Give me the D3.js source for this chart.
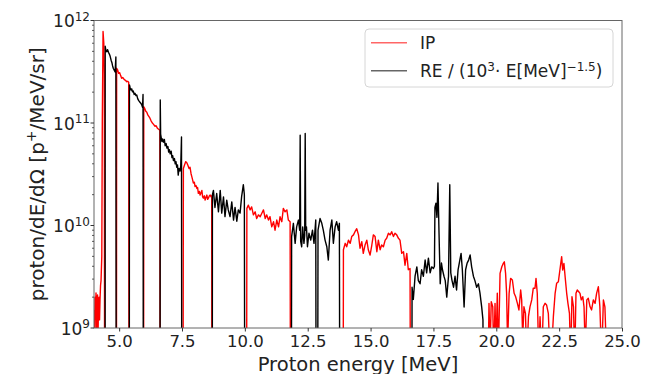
<!DOCTYPE html>
<html><head><meta charset="utf-8">
<script src="https://cdn.jsdelivr.net/npm/d3@7"></script>
<style>body{margin:0;background:#fff}svg{display:block;font-family:"DejaVu Sans",sans-serif}</style>
</head><body><svg id="c" width="655" height="374"></svg>
<script>
// ---------- data (energy [MeV], value) ; 0 = no signal (below axis) ----------
const xTicks = [5.0, 7.5, 10.0, 12.5, 15.0, 17.5, 20.0, 22.5, 25.0];
const yTickExp = [9, 10, 11, 12];
const seriesNames = ["IP", "RE"];

const ipPoints = [
 [4.00,1.5e9],[4.02,6e8],[4.04,2.0e9],[4.06,1.3e9],[4.08,2.2e9],[4.10,5e8],[4.12,1.9e9],[4.14,2.1e9],[4.16,8e8],[4.18,1.8e9],[4.20,2.0e9],[4.22,1.2e9],[4.24,1.9e9],[4.26,2.6e9],[4.28,2.9e9],[4.31,5e9],[4.33,1e11],[4.36,7.8e11],[4.39,6e11],[4.41,3e11],[4.43,0],
 [4.89,0],[4.90,3.42e11],[4.94,3.3e11],[4.98,3.05e11],[5.02,3.1e11],[5.06,2.9e11],[5.10,2.73e11],[5.14,2.78e11],[5.18,2.7e11],[5.22,2.63e11],[5.26,2.6e11],[5.30,2.53e11],[5.34,2.55e11],[5.38,2.5e11],[5.40,0],
 [5.97,0],[5.98,1.44e11],[6.02,1.38e11],[6.06,1.3e11],[6.10,1.27e11],[6.14,1.2e11],[6.18,1.16e11],[6.22,1.12e11],[6.27,1.05e11],[6.32,1.0e11],[6.37,9.7e10],[6.42,9.3e10],[6.47,9.4e10],[6.52,8.9e10],[6.57,8.7e10],[6.62,8.5e10],[6.64,0],
 [7.53,0],[7.555,3.6e10],[7.60,3.9e10],[7.65,4.2e10],[7.69,4.1e10],[7.73,3.9e10],[7.78,3.6e10],[7.82,3.7e10],[7.86,3.2e10],[7.89,3.0e10],[7.92,2.8e10],[7.95,2.6e10],[7.99,2.65e10],[8.02,2.4e10],[8.06,2.45e10],[8.09,2.3e10],[8.12,2.35e10],[8.15,2.06e10],[8.19,2.15e10],[8.22,1.98e10],[8.26,2.1e10],[8.29,2.2e10],[8.32,1.9e10],[8.35,1.85e10],[8.39,1.95e10],[8.42,1.77e10],[8.46,1.9e10],[8.49,1.98e10],[8.52,1.8e10],[8.55,1.85e10],[8.59,1.95e10],[8.62,1.98e10],[8.66,1.9e10],[8.68,1.95e10],[8.70,0],
 [10.06,0],[10.08,1.47e10],[10.14,1.58e10],[10.21,1.42e10],[10.27,1.52e10],[10.34,1.27e10],[10.41,1.36e10],[10.47,1.17e10],[10.54,1.27e10],[10.61,1.22e10],[10.67,1.31e10],[10.74,1.42e10],[10.81,1.17e10],[10.87,1.27e10],[10.94,1.13e10],[11.00,1.22e10],[11.07,9.7e9],[11.14,1.09e10],[11.20,9.0e9],[11.27,1.13e10],[11.34,9.7e9],[11.40,1.22e10],[11.47,1.09e10],[11.53,1.47e10],[11.60,1.36e10],[11.67,1.42e10],[11.73,1.13e10],[11.80,1.09e10],[11.83,0],
 [13.90,0],[13.92,5.8e9],[13.99,6.7e9],[14.05,6.2e9],[14.12,7.2e9],[14.19,6.7e9],[14.25,7.8e9],[14.32,8.1e9],[14.38,8.7e9],[14.45,9.3e9],[14.52,8.1e9],[14.58,6.0e9],[14.65,6.95e9],[14.71,5.35e9],[14.78,6.45e9],[14.85,7.2e9],[14.91,5.8e9],[14.98,5.15e9],[15.05,6.45e9],[15.11,8.1e9],[15.18,7.8e9],[15.25,5.55e9],[15.31,7.2e9],[15.38,5.8e9],[15.44,6.45e9],[15.51,6.2e9],[15.58,7.2e9],[15.64,7.5e9],[15.71,8.4e9],[15.78,8.1e9],[15.84,8.7e9],[15.91,7.8e9],[15.97,8.4e9],[16.04,8.1e9],[16.11,7.5e9],[16.17,7.2e9],[16.24,5.35e9],[16.31,5.55e9],[16.37,4.1e9],[16.44,5.35e9],[16.50,3.7e9],[16.57,3.8e9],[16.61,0],
 [19.65,0],[19.68,5e8],[19.71,1.74e9],[19.75,6e8],[19.80,1.81e9],[19.86,1.61e9],[19.90,5e8],[19.95,1.74e9],[19.99,6e8],[20.04,2.18e9],[20.08,5e8],[20.15,3.41e9],[20.22,3.96e9],[20.28,4.27e9],[20.32,4.43e9],[20.37,3.41e9],[20.41,2.18e9],[20.45,7e8],[20.51,2.18e9],[20.57,3.05e9],[20.64,2.94e9],[20.71,2.18e9],[20.77,2.02e9],[20.84,1.74e9],[20.90,1.5e9],[20.97,2.35e9],[21.01,1.88e9],[21.05,8e8],[21.10,1.61e9],[21.16,1.39e9],[21.21,5e8],[21.28,1.29e9],[21.34,1.61e9],[21.41,1.88e9],[21.47,2.44e9],[21.54,2.44e9],[21.58,3.05e9],[21.63,2.18e9],[21.69,5e8],[21.74,1.29e9],[21.81,5e8],[21.87,1.61e9],[21.94,1.74e9],[22.00,1.68e9],[22.07,1.39e9],[22.14,5e8],[22.20,6e8],[22.27,1.29e9],[22.34,2.18e9],[22.40,2.73e9],[22.47,2.83e9],[22.53,3.68e9],[22.60,4.97e9],[22.64,3.68e9],[22.69,4.27e9],[22.75,2.94e9],[22.80,2.18e9],[22.85,1.74e9],[22.91,1.39e9],[22.96,5e8],[23.01,2.02e9],[23.07,1.61e9],[23.12,5e8],[23.17,2.18e9],[23.22,2.35e9],[23.28,2.26e9],[23.33,2.18e9],[23.38,1.88e9],[23.44,2.02e9],[23.49,1.61e9],[23.54,6e8],[23.60,1.88e9],[23.66,1.95e9],[23.73,1.61e9],[23.79,1.5e9],[23.86,1.88e9],[23.93,1.74e9],[23.99,2.18e9],[24.06,2.53e9],[24.12,1.61e9],[24.19,5e8],[24.26,1.88e9],[24.32,1.61e9],[24.39,5e8],[24.45,0],[25.0,0]
];

const rePoints = [
 [4.00,0],[4.44,0],[4.445,5.6e11],[4.48,5.0e11],[4.51,4.96e11],[4.54,5.2e11],[4.575,4.9e11],[4.61,4.7e11],[4.64,4.5e11],[4.68,4.1e11],[4.71,3.9e11],[4.74,3.6e11],[4.77,3.4e11],[4.80,3.3e11],[4.84,3.15e11],[4.87,4.4e11],[4.89,0],
 [5.40,0],[5.41,2.35e11],[5.44,2.2e11],[5.47,2.1e11],[5.50,2.15e11],[5.53,2.02e11],[5.56,2.05e11],[5.60,1.9e11],[5.63,1.95e11],[5.67,1.85e11],[5.70,1.88e11],[5.74,1.72e11],[5.78,1.65e11],[5.82,1.6e11],[5.86,1.56e11],[5.90,1.5e11],[5.93,1.42e11],[5.95,1.9e11],[5.97,0],
 [6.62,0],[6.635,1.68e11],[6.65,7.8e10],[6.67,7.3e10],[6.70,6.6e10],[6.73,7.0e10],[6.76,6.5e10],[6.80,6.9e10],[6.83,6.0e10],[6.87,6.3e10],[6.90,5.7e10],[6.94,5.9e10],[6.97,5.2e10],[7.00,5.5e10],[7.03,5.0e10],[7.07,5.3e10],[7.10,4.6e10],[7.13,4.8e10],[7.16,4.3e10],[7.20,4.5e10],[7.23,4.0e10],[7.26,4.2e10],[7.29,3.7e10],[7.32,3.9e10],[7.35,3.1e10],[7.38,3.6e10],[7.42,3.4e10],[7.45,3.8e10],[7.48,7.3e10],[7.50,0],
 [8.70,0],[8.71,2.0e10],[8.75,2.2e10],[8.81,1.5e10],[8.88,2.05e10],[8.95,1.36e10],[9.02,2.2e10],[9.08,1.32e10],[9.15,1.9e10],[9.21,1.22e10],[9.28,1.77e10],[9.34,1.42e10],[9.41,1.22e10],[9.48,1.7e10],[9.55,1.13e10],[9.61,1.5e10],[9.68,1.1e10],[9.74,1.42e10],[9.81,1.32e10],[9.87,1.9e10],[9.94,2.5e10],[9.98,2.0e10],[10.01,0],
 [11.84,0],[11.86,7.8e9],[11.93,1.05e10],[12.00,6.7e9],[12.06,9.7e9],[12.13,1.13e10],[12.18,9.0e9],[12.20,7.6e10],[12.22,7.0e9],[12.26,6.2e9],[12.30,9.7e9],[12.35,6.7e9],[12.38,8.0e9],[12.40,7.9e10],[12.42,9.0e9],[12.45,9.7e9],[12.49,6.2e9],[12.55,8.4e9],[12.62,7.2e9],[12.69,9.0e9],[12.75,6.7e9],[12.82,1.13e10],[12.85,0],[12.88,0],[12.91,9.0e9],[12.99,1.17e10],[13.06,1.05e10],[13.12,9.0e9],[13.19,7.2e9],[13.26,6.2e9],[13.32,4.6e9],[13.39,9.0e9],[13.46,1.13e10],[13.52,6.7e9],[13.59,9.7e9],[13.65,1.09e10],[13.72,9.0e9],[13.76,1.05e10],[13.79,0],
 [16.63,0],[16.65,2.5e9],[16.70,1.9e9],[16.77,3.2e9],[16.84,3.95e9],[16.90,2.9e9],[16.97,2.7e9],[17.03,3.7e9],[17.10,3.2e9],[17.17,4.6e9],[17.23,3.45e9],[17.30,4.8e9],[17.37,3.45e9],[17.43,3.95e9],[17.50,3.8e9],[17.54,4.0e9],[17.56,1.5e10],[17.60,1.65e10],[17.64,1.2e10],[17.68,2.6e10],[17.72,9e9],[17.77,2.7e9],[17.82,4.3e9],[17.86,3.7e9],[17.92,3.2e9],[17.97,2.9e9],[18.03,2.0e9],[18.10,3.2e9],[18.15,2.5e10],[18.19,3.45e9],[18.24,2.9e9],[18.30,2.5e9],[18.36,3.2e9],[18.42,2.35e9],[18.48,3.7e9],[18.55,4.6e9],[18.60,5.35e9],[18.65,3.7e9],[18.72,1.6e9],[18.78,3.7e9],[18.84,4.3e9],[18.90,4.6e9],[18.96,5.15e9],[19.02,3.95e9],[19.09,3.2e9],[19.15,2.9e9],[19.22,2.5e9],[19.29,2.7e9],[19.35,2.2e9],[19.42,1.6e9],[19.47,1.2e9],[19.50,0],[25.0,0]
];

// ---------- layout ----------
const svg = d3.select("#c");
const L = 94, R = 622, T = 20.5, B = 328;
const x = d3.scaleLinear().domain([4, 25]).range([L, R]);
const y = d3.scaleLog().domain([1e9, 1e12]).range([B, T]);
const yv = v => v > 0 ? y(v) : y(1e6);

svg.append("defs").append("clipPath").attr("id","clip")
  .append("rect").attr("x",L).attr("y",T).attr("width",R-L).attr("height",B-T);

const line = d3.line().x(d => x(d[0])).y(d => yv(d[1]));
const g = svg.append("g").attr("clip-path","url(#clip)");
g.append("path").datum(ipPoints).attr("d",line).attr("fill","none")
  .attr("stroke","#ff0000").attr("stroke-width",1.4).attr("stroke-linejoin","round");
g.append("path").datum(rePoints).attr("d",line).attr("fill","none")
  .attr("stroke","#000").attr("stroke-width",1.4).attr("stroke-linejoin","round");

// frame
svg.append("rect").attr("x",L).attr("y",T).attr("width",R-L).attr("height",B-T)
  .attr("fill","none").attr("stroke","#666").attr("stroke-width",1);

// x axis
const xAxis = d3.axisBottom(x).tickValues(xTicks).tickFormat(d3.format(".1f")).tickSize(3.5).tickPadding(3);
const xg = svg.append("g").attr("transform",`translate(0,${B})`).call(xAxis);
xg.select(".domain").remove();
xg.selectAll("line").attr("stroke","#333");
xg.selectAll("text").attr("font-size",16.5).attr("fill","#222").attr("font-family","DejaVu Sans").attr("dy","0.78em");

// y axis: major + minor ticks
const yg = svg.append("g");
const minor = [];
for (let e = 9; e < 12; e++) for (let m = 2; m <= 9; m++) minor.push(m * Math.pow(10, e));
yg.selectAll("line.mi").data(minor).join("line").attr("x1",L-2).attr("x2",L)
  .attr("y1",d=>y(d)).attr("y2",d=>y(d)).attr("stroke","#333").attr("stroke-width",0.8);
yg.selectAll("line.ma").data(yTickExp).join("line").attr("x1",L-3.5).attr("x2",L)
  .attr("y1",d=>y(Math.pow(10,d))).attr("y2",d=>y(Math.pow(10,d))).attr("stroke","#333");
const yt = yg.selectAll("text.yt").data(yTickExp).join("text")
  .attr("x",L-4).attr("y",d=>y(Math.pow(10,d))+6.5).attr("text-anchor","end")
  .attr("font-size",17).attr("fill","#222");
yt.append("tspan").text("10");
yt.append("tspan").attr("font-size",12).attr("dy",-6.5).text(d=>d);

// axis labels
svg.append("text").attr("x",(L+R)/2).attr("y",370.5).attr("text-anchor","middle")
  .attr("font-size",19.5).attr("fill","#222").text("Proton energy [MeV]");
const yl = svg.append("text").attr("transform",`translate(44,${(T+B)/2}) rotate(-90)`)
  .attr("text-anchor","middle").attr("font-size",20).attr("fill","#222");
yl.append("tspan").text("proton/dE/dΩ [p");
yl.append("tspan").attr("font-size",14).attr("dy",-8).text("+");
yl.append("tspan").attr("dy",8).text("/MeV/sr]");

// legend
const lg = svg.append("g");
lg.append("rect").attr("x",365).attr("y",29).attr("width",248).attr("height",58).attr("rx",4)
  .attr("fill","#fff").attr("fill-opacity",0.8).attr("stroke","#d6d6d6");
lg.append("line").attr("x1",371).attr("x2",407).attr("y1",42.7).attr("y2",42.7)
  .attr("stroke","#ff0000").attr("stroke-opacity",0.6).attr("stroke-width",1.4);
lg.append("line").attr("x1",371).attr("x2",407).attr("y1",70.7).attr("y2",70.7)
  .attr("stroke","#000").attr("stroke-opacity",0.6).attr("stroke-width",1.4);
lg.append("text").attr("x",420).attr("y",49.3).attr("font-size",17).attr("fill","#222").text(seriesNames[0]);
const t2 = lg.append("text").attr("x",420).attr("y",77.3).attr("font-size",17).attr("fill","#222");
t2.append("tspan").text(seriesNames[1] + " / (10");
t2.append("tspan").attr("font-size",12).attr("dy",-6.5).text("3");
t2.append("tspan").attr("dy",6.5).text("· E[MeV]");
t2.append("tspan").attr("font-size",12).attr("dy",-6.5).text("−1.5");
t2.append("tspan").attr("dy",6.5).text(")");
</script></body></html>
